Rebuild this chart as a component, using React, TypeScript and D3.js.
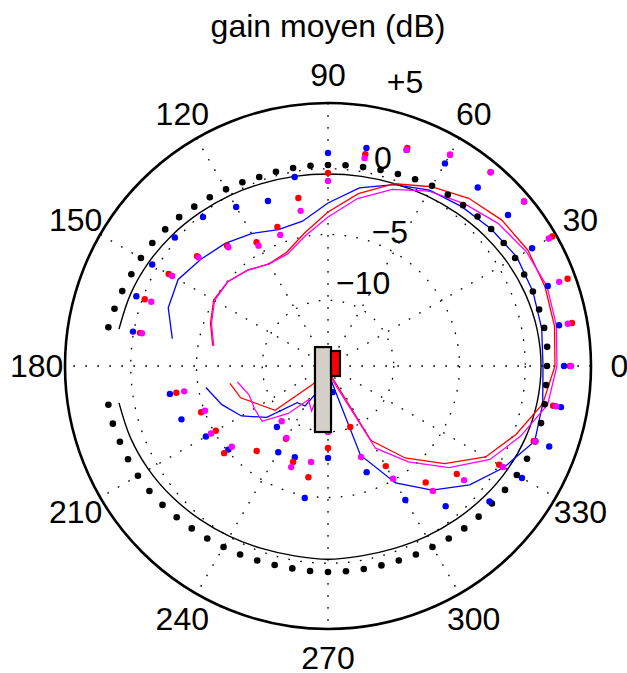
import React from "react";
import * as d3 from "d3";

// ---------- data ----------
const angleTicks = [0, 30, 60, 90, 120, 150, 180, 210, 240, 270, 300, 330];
const ringValues = [-10, -5, 0];
const ringLabels = ["−10", "−5", "0", "+5"];
// label placement (angle deg, radius in dB units)
const ringLabelAngles = [67, 65.2, 75.2, 74.8];
const ringLabelRadii = [-8.16, -3.78, 1.35, 7.36];

// colored lines: angles 170 -> 0 -> -170 (=190)
const lineAngles = [170, 160, 150, 140, 130, 120, 110, 100, 90, 80, 70, 60, 50, 40, 30, 20, 10, 0,
  -10, -20, -30, -40, -50, -60, -70, -80, -90, -100, -110, -120, -130, -140, -150, -160, -170];
const blueLine = [-2.98, -2.07, -1.84, -2.38, -2.83, -3.37, -3.97, -3.82, -2.6, -1.24, -0.32, 0.44, 0.82, 1.2, 1.58, 1.58, 1.5, 1.35,
  1.58, 1.73, 0.44, -0.93, -2.68, -4.73, -7.78, -14.09, -14.62, -14.39, -13.1, -11.5, -11.35, -8.92, -7.4, -6.41, -5.57];
const redLine = [-6.1, -5.49, -4.96, -5.04, -5.49, -6.03, -5.8, -4.73, -3.29, -1.69, -0.25, 0.74, 1.65, 2.26, 2.57, 2.57, 2.49, 2.26,
  1.58, 0.21, -1.16, -3.44, -5.87, -8.46, -14.09, -14.62, -14.62, -14.4, -14.4, -14.24, -13.17, -9.75, -9.07, -7.93, -7.43];
const magentaLine = [-6.18, -5.57, -5.04, -5.04, -5.49, -6.03, -5.95, -4.96, -3.67, -2.07, -0.7, 0.36, 1.12, 1.88, 2.41, 2.72, 2.64, 2.41,
  1.96, 0.59, -0.78, -2.98, -5.49, -7.78, -13.63, -14.62, -14.62, -14.24, -11.35, -12.03, -10.29, -8.46, -8.54, -8.61, -8.0];

// thin black reference curve: angles -170 .. 170
const refAngles = [-170, -160, -150, -140, -130, -120, -110, -100, -90, -80, -70, -60, -50, -40, -30, -20, -10,
  0, 10, 20, 30, 40, 50, 60, 70, 80, 90, 100, 110, 120, 130, 140, 150, 160, 170];
const refLine = [1.14, 0.98, 0.75, 0.48, 0.2, -0.04, -0.24, -0.34, -0.3, -0.34, -0.24, -0.04, 0.2, 0.48, 0.75, 0.98, 1.14,
  1.2, 1.14, 0.98, 0.75, 0.48, 0.2, -0.04, -0.24, -0.36, -0.4, -0.36, -0.24, -0.04, 0.2, 0.48, 0.75, 0.98, 1.14];

// black dots every 5 deg (175..185 missing)
const blackDotAngles = [0, 5, 10, 15, 20, 25, 30, 35, 40, 45, 50, 55, 60, 65, 70, 75, 80, 85, 90, 95, 100, 105, 110, 115,
  120, 125, 130, 135, 140, 145, 150, 155, 160, 165, 170,
  190, 195, 200, 205, 210, 215, 220, 225, 230, 235, 240, 245, 250, 255, 260, 265, 270, 275, 280, 285, 290, 295,
  300, 305, 310, 315, 320, 325, 330, 335, 340, 345, 350, 355];
const blackDots = [1.65, 1.73, 1.69, 1.62, 1.58, 1.46, 1.43, 1.31, 1.2, 1.08, 0.97, 0.89, 0.82, 0.67, 0.54, 0.44, 0.36, 0.32,
  0.29, 0.29, 0.29, 0.29, 0.29, 0.41, 0.51, 0.67, 0.82, 1.01, 1.16, 1.31, 1.43, 1.5, 1.65, 1.81, 1.96,
  1.96, 1.94, 1.84, 1.78, 1.69, 1.58, 1.43, 1.27, 1.12, 1.01, 0.89, 0.82, 0.74, 0.67, 0.63, 0.65, 0.67, 0.67, 0.67,
  0.7, 0.74, 0.82, 0.89, 1.01, 1.12, 1.2, 1.27, 1.43, 1.58, 1.7, 1.77, 1.77, 1.73, 1.65];

// colored dots every 10 deg (180 missing)
const dotAngles = [0, 10, 20, 30, 40, 50, 60, 70, 80, 90, 100, 110, 120, 130, 140, 150, 160, 170,
  190, 200, 210, 220, 230, 240, 250, 260, 270, 280, 290, 300, 310, 320, 330, 340, 350];
const blueDots = [2.95, 2.84, 2.79, 2.92, 2.87, 2.72, 2.79, 2.49, 1.84, 1.2, -0.4, -1.65, -1.03, -0.21, 0.21, 0.44, 0.51, 0.06,
  -2.79, -3.14, -4.28, -5.11, -8.95, -7.43, -7.62, -4.81, -8.0, -12.98, -6.41, -3.24, -1.08, 1.03, 2.03, 2.9, 2.99];
const redDots = [3.4, 3.84, 4.39, 4.7, 4.47, 4.24, 3.56, 2.64, 1.35, -0.32, -2.03, -3.75, -4.13, -3.06, -2.0, -1.01, -0.17, -0.48,
  -3.29, -4.73, -5.15, -4.69, -6.56, -8.61, -7.24, -6.41, -8.76, -14.24, -10.06, -6.21, -3.44, -2.22, 0.03, 1.65, 2.38];
const magentaDots = [3.48, 3.52, 3.71, 4.39, 4.47, 4.24, 3.56, 2.5, 1.05, -0.93, -3.02, -4.39, -4.43, -3.21, -2.15, -1.31, -0.7, -0.63,
  -3.9, -5.04, -4.73, -5.45, -9.52, -8.69, -6.82, -7.59, -9.98, -14.24, -7.64, -5.11, -2.6, -1.5, 0.36, 1.77, 2.6];

// antenna sketch rectangles (cartesian, in dB units from the centre)
const grayBox = { x0: -0.99, x1: 0.23, y0: 1.44, y1: -5.02 };
const redBox = { x0: 0.23, x1: 0.91, y0: 1.14, y1: -0.76 };

const TITLE = "gain moyen (dB)";

// ---------- layout ----------
const W = 627, H = 673;
const cx = 328, cy = 366, R = 263;
const FONT = "'Liberation Sans', Arial, Helvetica, sans-serif";
const FS = 32;

export default function App() {
  const rFree = d3.scaleLinear().domain([-15, 5]).range([0, R]);
  const r = rFree.copy().clamp(true);
  const k = R / 20;
  const pt = (deg: number, db: number, scale = r): [number, number] => {
    const a = (deg * Math.PI) / 180;
    const rr = scale(db);
    return [cx + rr * Math.cos(a), cy - rr * Math.sin(a)];
  };
  const lineGen = d3.line<[number, number]>();
  const smoothGen = d3.line<[number, number]>().curve(d3.curveCatmullRom);
  const seriesPath = (angles: number[], vals: number[], gen = lineGen) =>
    gen(angles.map((a, i) => pt(a, vals[i]))) || "";

  const dotted = { stroke: "#000", strokeWidth: 1.3, strokeDasharray: "1.7 10.3", fill: "none" };

  const rect = (b: { x0: number; x1: number; y0: number; y1: number }) => ({
    x: cx + b.x0 * k,
    y: cy - b.y0 * k,
    width: (b.x1 - b.x0) * k,
    height: (b.y0 - b.y1) * k,
  });
  const g = rect(grayBox);
  const rb = rect(redBox);

  return (
    <svg width={W} height={H} style={{ position: "absolute", left: 0, top: 0, background: "#fff" }}
      fontFamily={FONT}>
      <rect x={0} y={0} width={W} height={H} fill="#fff" />
      {/* grid */}
      {ringValues.map((v) => (
        <circle key={v} cx={cx} cy={cy} r={r(v)} {...dotted} />
      ))}
      {[0, 30, 60, 90, 120, 150].map((a) => {
        const [x1, y1] = pt(a, 5);
        const [x2, y2] = pt(a + 180, 5);
        return <line key={a} x1={x1} y1={y1} x2={x2} y2={y2} {...dotted} />;
      })}
      <circle cx={cx} cy={cy} r={R} fill="none" stroke="#000" strokeWidth={2.6} />

      {/* angle labels */}
      {angleTicks.map((a) => {
        const a2 = (a * Math.PI) / 180;
        const rr = R * 1.108;
        return (
          <text key={a} x={cx + rr * Math.cos(a2)} y={cy - rr * Math.sin(a2)} dy="0.35em"
            textAnchor="middle" fontSize={FS} fill="#000">{a}</text>
        );
      })}
      {/* ring labels */}
      {ringLabels.map((t, i) => {
        const [x, y] = pt(ringLabelAngles[i], ringLabelRadii[i], rFree);
        return (
          <text key={t} x={x} y={y} dy="0.35em" textAnchor="middle" fontSize={FS} fill="#000">{t}</text>
        );
      })}

      {/* reference curve */}
      <path d={seriesPath(refAngles, refLine, smoothGen)} fill="none" stroke="#000" strokeWidth={1.4} />

      {/* lines */}
      <path d={seriesPath(lineAngles, blueLine)} fill="none" stroke="#0000ff" strokeWidth={1.3} />
      <path d={seriesPath(lineAngles, redLine)} fill="none" stroke="#ff0000" strokeWidth={1.3} />
      <path d={seriesPath(lineAngles, magentaLine)} fill="none" stroke="#ff00ff" strokeWidth={1.3} />

      {/* dots */}
      {blackDotAngles.map((a, i) => {
        const [x, y] = pt(a, blackDots[i]);
        return <circle key={"k" + i} cx={x} cy={y} r={3.3} fill="#000" />;
      })}
      {dotAngles.map((a, i) => {
        const [x, y] = pt(a, blueDots[i]);
        return <circle key={"b" + i} cx={x} cy={y} r={3.2} fill="#0000ff" />;
      })}
      {dotAngles.map((a, i) => {
        const [x, y] = pt(a, redDots[i]);
        return <circle key={"r" + i} cx={x} cy={y} r={3.2} fill="#ff0000" />;
      })}
      {dotAngles.map((a, i) => {
        const [x, y] = pt(a, magentaDots[i]);
        return <circle key={"m" + i} cx={x} cy={y} r={3.2} fill="#ff00ff" />;
      })}

      {/* antenna sketch */}
      <rect {...g} fill="#d4d0c8" stroke="#000" strokeWidth={2.2} />
      <rect {...rb} fill="#ff0000" stroke="#000" strokeWidth={2.2} />

      {/* title */}
      <text x={cx} y={37} textAnchor="middle" fontSize={FS} fill="#000">{TITLE}</text>
    </svg>
  );
}
